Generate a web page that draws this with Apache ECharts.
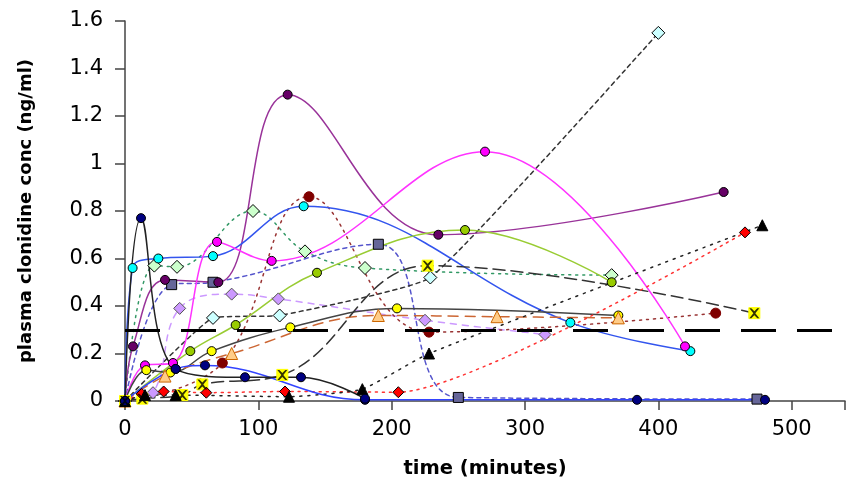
<!DOCTYPE html>
<html><head><meta charset="utf-8">
<script src="https://cdn.jsdelivr.net/npm/echarts@6/dist/echarts.min.js"></script>
<style>html,body{margin:0;padding:0;background:#fff}#c{width:848px;height:484px}</style>
</head><body><div id="c"></div>
<script>
// x ticks / y ticks
const xTicks = [0, 100, 200, 300, 400, 500];
const yTicks = [0, 0.2, 0.4, 0.6, 0.8, 1, 1.2, 1.4, 1.6];
const threshold = 0.3;

// series values: [time (min), conc (ng/ml)]
const purpleCircle   = [[0,0],[6,0.23],[30,0.51],[70,0.50],[122,1.29],[235,0.70],[449,0.88]];
const navyBlack      = [[0,0],[12,0.77],[38,0.135],[90,0.10],[132,0.10],[180,0.01]];
const navyBlue       = [[0,0],[38,0.135],[60,0.15],[180,0.005],[384,0.005],[480,0.005]];
const cyanBlue       = [[0,0],[5.7,0.56],[25,0.60],[66,0.61],[134,0.82],[334,0.33],[424,0.21]];
const magenta        = [[0,0],[15,0.15],[36,0.16],[69,0.67],[110,0.59],[270,1.05],[420,0.23]];
const darkRed        = [[0,0],[73,0.16],[138,0.86],[228,0.29],[443,0.37]];
const lightGreen     = [[0,0],[22,0.57],[39,0.565],[96,0.80],[135,0.63],[180,0.56],[365,0.53]];
const lightCyan      = [[0,0],[66,0.35],[116,0.36],[229,0.52],[400,1.55]];
const slateSquare    = [[0,0],[35,0.49],[66,0.50],[190,0.66],[250,0.015],[474,0.008]];
const lavender       = [[0,0],[21,0.035],[41,0.39],[80,0.45],[115,0.43],[225,0.34],[315,0.28]];
const yellowGreen    = [[0,0],[49,0.21],[83,0.32],[144,0.54],[255,0.72],[365,0.50]];
const yellowCircle   = [[0,0],[16,0.13],[34,0.12],[65,0.21],[124,0.31],[204,0.39],[370,0.36]];
const orangeTriangle = [[0,0],[30,0.105],[80,0.20],[190,0.36],[279,0.355],[370,0.35]];
const yellowX        = [[0,0],[13,0.01],[43,0.025],[58,0.07],[118,0.11],[227,0.57],[472,0.37]];
const redDiamond     = [[0,0],[12.5,0.03],[29,0.04],[61,0.035],[120,0.04],[205,0.037],[465,0.71]];
const blackTriangle  = [[0,0],[15,0.025],[38,0.025],[123,0.018],[178,0.05],[228,0.20],[478,0.74]];

const xPath = 'path://M0,0 L2,0 L5,3 L8,0 L10,0 L6,5 L10,10 L8,10 L5,7 L2,10 L0,10 L4,5 Z';

function mk(data, o) {
  return {
    type: 'line', data: data, smooth: o.smooth == null ? 0.4 : o.smooth,
    symbol: o.symbol || 'circle', symbolSize: o.size || 9,
    lineStyle: { color: o.line, width: o.width || 1.5, type: o.type || 'solid', cap: 'round' },
    itemStyle: { color: o.fill, borderColor: o.border || '#000', borderWidth: 1 },
    z: o.z || 2, animation: false
  };
}

const series = [
  mk(lightGreen, {line:'#339966', type:[2,5], fill:'#ccffcc', symbol:'diamond', size:13}),
  mk(lavender, {line:'#cc99ff', type:[6,6], fill:'#cc99ff', symbol:'diamond', size:12, border:'#555'}),
  mk(slateSquare, {line:'#5555cc', type:[4,4], fill:'#666699', symbol:'rect', size:10}),
  mk(lightCyan, {line:'#333333', type:[4,4], fill:'#ccffff', symbol:'diamond', size:13, smooth:0.12}),
  mk(darkRed, {line:'#993333', type:[2,5], fill:'#800000', border:'#800000', size:10}),
  mk(purpleCircle, {line:'#993399', fill:'#660066', size:9}),
  mk(cyanBlue, {line:'#3355ee', fill:'#00ffff', size:9}),
  mk(magenta, {line:'#ff33ff', fill:'#ff00ff', size:9}),
  mk(yellowGreen, {line:'#99cc33', fill:'#99cc00', size:9}),
  mk(yellowCircle, {line:'#444444', fill:'#ffff00', size:9}),
  mk(orangeTriangle, {line:'#cc6633', type:[10,7], fill:'#ffcc88', border:'#cc6600', symbol:'triangle', size:12}),
  mk(yellowX, {line:'#333333', type:[12,6], fill:'#ffff00', border:'#ffff00', symbol:'rect', size:11}),
  {type:'scatter', data: yellowX, symbol: xPath, symbolSize: 10, itemStyle:{color:'#000'}, z: 4, animation:false},
  mk(redDiamond, {line:'#ff3333', type:[2,5], fill:'#ff0000', symbol:'diamond', size:11, smooth:0.2}),
  mk(blackTriangle, {line:'#222222', type:[2,6], fill:'#000000', symbol:'triangle', size:11, smooth:0.15}),
  mk(navyBlue, {line:'#3344ff', fill:'#000080', size:9}),
  mk(navyBlack, {line:'#222222', fill:'#000080', size:9})
];
series[0].markLine = {
  silent: true, symbol: 'none', animation: false,
  label: { show: false },
  lineStyle: { color: '#000', width: 3, type: [35, 21] },
  data: [{ yAxis: threshold }]
};

const chart = echarts.init(document.getElementById('c'), null, {renderer: 'canvas'});
chart.setOption({
  animation: false,
  backgroundColor: '#fff',
  grid: { left: 125, right: 0, top: 21, bottom: 83, containLabel: false },
  xAxis: {
    type: 'value', min: 0, max: 540, interval: 100,
    name: 'time (minutes)', nameLocation: 'middle', nameGap: 58,
    nameTextStyle: { fontFamily: 'DejaVu Sans', fontWeight: 'bold', fontSize: 19.5, color: '#000' },
    axisLine: { show: true, lineStyle: { color: '#444', width: 1.5 } },
    axisTick: { show: true, length: 9, lineStyle: { color: '#444', width: 1.5 } },
    axisLabel: { fontFamily: 'DejaVu Sans', fontSize: 21, color: '#000', margin: 18,
      formatter: v => xTicks.indexOf(v) >= 0 ? String(v) : '' },
    splitLine: { show: false }
  },
  yAxis: {
    type: 'value', min: 0, max: 1.6, interval: 0.2,
    name: 'plasma clonidine conc (ng/ml)', nameLocation: 'middle', nameGap: 90,
    nameTextStyle: { fontFamily: 'DejaVu Sans', fontWeight: 'bold', fontSize: 18, color: '#000' },
    axisLine: { show: true, lineStyle: { color: '#444', width: 1.5 } },
    axisTick: { show: true, length: 10, lineStyle: { color: '#444', width: 1.5 } },
    axisLabel: { fontFamily: 'DejaVu Sans', fontSize: 21, color: '#000', margin: 22,
      formatter: v => { const t = yTicks.find(a => Math.abs(a - v) < 1e-6); return t == null ? '' : String(t); } },
    splitLine: { show: false }
  },
  series: series
});
</script></body></html>
